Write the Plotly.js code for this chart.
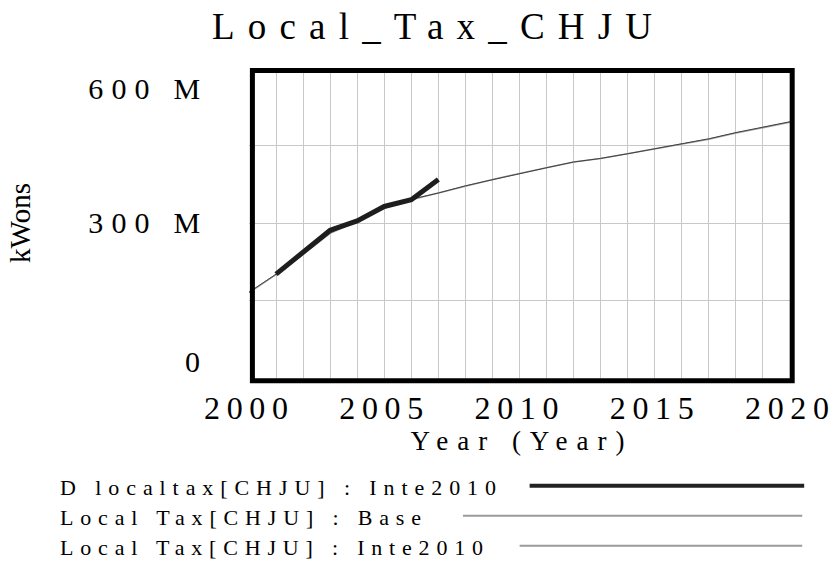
<!DOCTYPE html>
<html>
<head>
<meta charset="utf-8">
<script src="https://cdn.plot.ly/plotly-3.0.1.min.js"></script>
<style>html,body{margin:0;padding:0;background:#fff}#chart{width:834px;height:562px}</style>
</head>
<body>
<div id="chart"></div>
<script>
// ---- data (values in millions of kWons) ----
const years = [2000, 2001, 2002, 2003, 2004, 2005, 2006, 2007, 2008, 2009, 2010,
               2011, 2012, 2013, 2014, 2015, 2016, 2017, 2018, 2019, 2020];
const baseTax = [165, 200, 239, 280, 303, 329, 345, 358, 372, 384, 396,
                 407, 418, 425, 434, 444, 452, 462, 474, 485, 495];
const inte2010Tax = [166, 201, 240, 281, 304, 330, 346, 358, 372, 384, 396,
                     407, 418, 425, 434, 444, 453, 463, 475, 486, 496];
const dYears = [2001, 2002, 2003, 2004, 2005, 2006, 2007];
const dLocalTax = [201, 244, 286, 304, 332, 345, 384];

const yTickVals = [0, 300, 600];
const yTickText = ['0', '300 M', '600 M'];
const seriesNames = ['D localtax[CHJU] : Inte2010', 'Local Tax[CHJU] : Base', 'Local Tax[CHJU] : Inte2010'];
const chartTitle = 'Local_Tax_CHJU';
const xTitle = 'Year (Year)';
const yTitle = 'kWons';

const FONT = '"Liberation Serif", "Times New Roman", Times, serif';
const GRID = '#c8c8c8';

const data = [
  {x: years, y: baseTax, type: 'scatter', mode: 'lines', name: seriesNames[1],
   line: {color: '#a0a0a0', width: 1.5}},
  {x: years, y: inte2010Tax, type: 'scatter', mode: 'lines', name: seriesNames[2],
   line: {color: '#404040', width: 1}},
  {x: dYears, y: dLocalTax, type: 'scatter', mode: 'lines', name: seriesNames[0],
   line: {color: '#1e1e1e', width: 5}}
];

// y tick labels drawn as annotations anchored on the y axis values (Vensim-style offsets)
const yLabelShift = [17, 1, -20];
const annotations = [];
const annWidth = [];
const yLabelWidth = [0, 112, 112];
yTickVals.forEach((v, i) => {
  annotations.push({xref: 'paper', x: -0.0866, xanchor: 'right', align: 'right',
    yref: 'y', y: v, yanchor: 'middle', yshift: yLabelShift[i],
    text: yTickText[i], showarrow: false, font: {family: FONT, size: 30, color: '#000'}});
  annWidth.push(yLabelWidth[i]);
});
// legend entries
const legendY = [-0.3538, -0.4508, -0.5479];
const legendWidth = [436, 361, 423];
[0, 1, 2].forEach((k, i) => {
  annotations.push({xref: 'paper', x: -0.3522, xanchor: 'left', align: 'left',
    yref: 'paper', y: legendY[i], yanchor: 'middle',
    text: seriesNames[k], showarrow: false, font: {family: FONT, size: 22, color: '#000'}});
  annWidth.push(legendWidth[i]);
});

const shapes = [
  // heavy frame
  {type: 'rect', xref: 'paper', yref: 'paper', x0: 0.00628, x1: 1.00406, y0: -0.0087, y1: 0.9916,
   line: {color: '#000', width: 5}, fillcolor: 'rgba(0,0,0,0)', layer: 'above'},
  // legend samples
  {type: 'line', xref: 'paper', yref: 'paper', x0: 0.5187, x1: 1.0262, y0: -0.3473, y1: -0.3473,
   line: {color: '#222', width: 4}},
  {type: 'line', xref: 'paper', yref: 'paper', x0: 0.3956, x1: 1.0226, y0: -0.4444, y1: -0.4444,
   line: {color: '#9a9a9a', width: 2}},
  {type: 'line', xref: 'paper', yref: 'paper', x0: 0.5002, x1: 1.0226, y0: -0.5414, y1: -0.5414,
   line: {color: '#9a9a9a', width: 2}}
];

const layout = {
  width: 834, height: 562,
  margin: {l: 248.6, r: 44.2, t: 68.4, b: 184.4, pad: 0},
  paper_bgcolor: '#fff', plot_bgcolor: '#fff',
  showlegend: false,
  font: {family: FONT, color: '#000'},
  title: {text: chartTitle, font: {family: FONT, size: 37, color: '#000'},
          xref: 'container', x: 0.518, xanchor: 'center',
          yref: 'container', y: 0.953, yanchor: 'middle'},
  xaxis: {range: [2000, 2020], tickmode: 'linear', tick0: 2000, dtick: 5,
          showgrid: true, gridcolor: GRID, gridwidth: 1,
          minor: {tickmode: 'linear', tick0: 2000, dtick: 1, showgrid: true, gridcolor: GRID, gridwidth: 1},
          zeroline: false, showline: false, ticks: '',
          tickfont: {family: FONT, size: 32, color: '#000'},
          ticklabelstandoff: 8,
          title: {text: xTitle, font: {family: FONT, size: 27, color: '#000'}, standoff: 6},
          fixedrange: true},
  yaxis: {range: [0, 600], tickmode: 'linear', tick0: 0, dtick: 150,
          showticklabels: false, showgrid: true, gridcolor: GRID, gridwidth: 1,
          zeroline: false, showline: false, ticks: '',
          title: {text: yTitle, font: {family: FONT, size: 29, color: '#000'}, standoff: 208},
          fixedrange: true},
  annotations: annotations,
  shapes: shapes
};

function spread(el, w) {
  if (!w) return;
  el.setAttribute('textLength', w);
  el.setAttribute('lengthAdjust', 'spacing');
}

Plotly.newPlot('chart', data, layout, {staticPlot: true, displayModeBar: false}).then(gd => {
  gd.querySelectorAll('.gtitle').forEach(el => spread(el, 440));
  gd.querySelectorAll('.xtick text').forEach(el => { spread(el, 84); el.setAttribute('dx', -3); });
  gd.querySelectorAll('.xtitle').forEach(el => { spread(el, 214); el.setAttribute('dx', -2); });
  gd.querySelectorAll('g.annotation').forEach(g => {
    const idx = +g.getAttribute('data-index');
    g.querySelectorAll('text').forEach(t => spread(t, annWidth[idx]));
  });
});
</script>
</body>
</html>
